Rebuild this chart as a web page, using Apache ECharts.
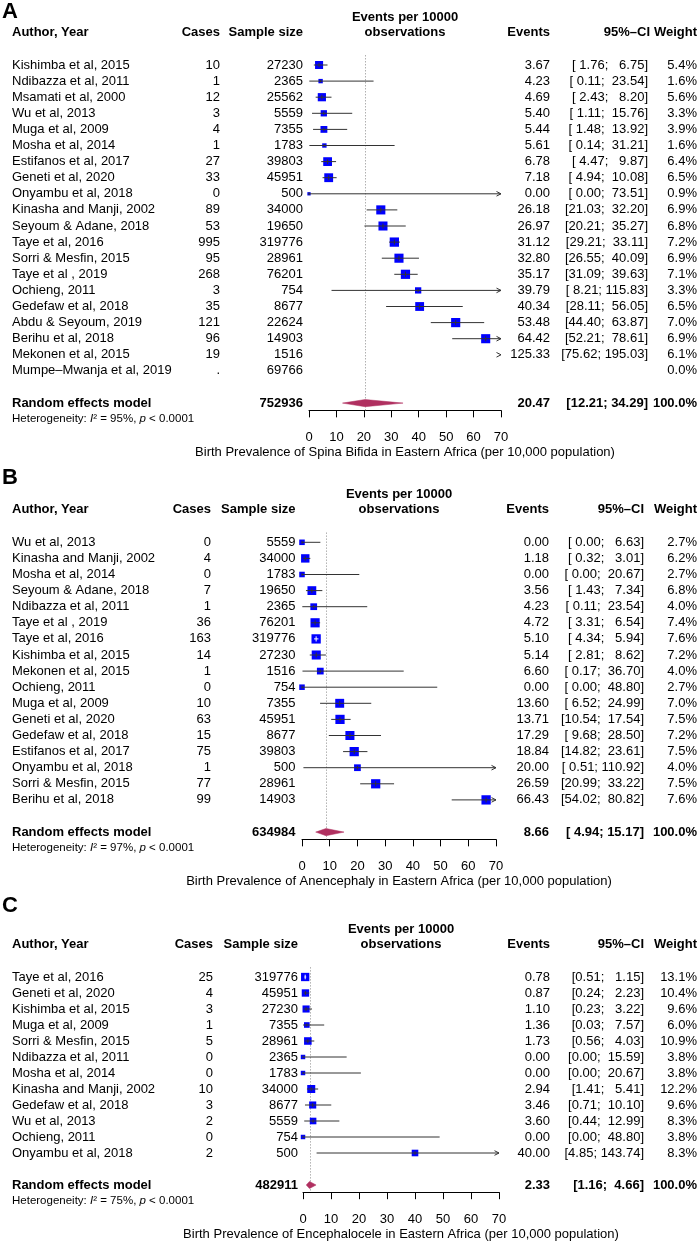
<!DOCTYPE html>
<html>
<head>
<meta charset="utf-8">
<title>Forest plots – neural tube defects in Eastern Africa</title>
<script src="https://cdn.jsdelivr.net/npm/echarts/dist/echarts.min.js"></script>
<style>html,body{margin:0;padding:0;background:#fff}#chart{width:700px;height:1241px}</style>
</head>
<body>
<div id="chart"></div>
<script>
// ---------------- DATA ----------------
// Panel A: Spina bifida
const studiesA = ["Kishimba et al, 2015","Ndibazza et al, 2011","Msamati et al, 2000","Wu et al, 2013","Muga et al, 2009","Mosha et al, 2014","Estifanos et al, 2017","Geneti et al, 2020","Onyambu et al, 2018","Kinasha and Manji, 2002","Seyoum & Adane, 2018","Taye et al, 2016","Sorri & Mesfin, 2015","Taye et al , 2019","Ochieng, 2011","Gedefaw et al, 2018","Abdu & Seyoum, 2019","Berihu et al, 2018","Mekonen et al, 2015","Mumpe–Mwanja et al, 2019"];
const casesA = ["10","1","12","3","4","1","27","33","0","89","53","995","95","268","3","35","121","96","19","."];
const sampleA = [27230,2365,25562,5559,7355,1783,39803,45951,500,34000,19650,319776,28961,76201,754,8677,22624,14903,1516,69766];
const eventsA = [3.67,4.23,4.69,5.40,5.44,5.61,6.78,7.18,0.00,26.18,26.97,31.12,32.80,35.17,39.79,40.34,53.48,64.42,125.33,null];
const lowerA = [1.76,0.11,2.43,1.11,1.48,0.14,4.47,4.94,0.00,21.03,20.21,29.21,26.55,31.09,8.21,28.11,44.40,52.21,75.62,null];
const upperA = [6.75,23.54,8.20,15.76,13.92,31.21,9.87,10.08,73.51,32.20,35.27,33.11,40.09,39.63,115.83,56.05,63.87,78.61,195.03,null];
const weightA = [5.4,1.6,5.6,3.3,3.9,1.6,6.4,6.5,0.9,6.9,6.8,7.2,6.9,7.1,3.3,6.5,7.0,6.9,6.1,0.0];
const pooledA = [20.47,12.21,34.29];
const totalA = 752936;
const i2A = 95;
const titleA = "Birth Prevalence of Spina Bifida in Eastern Africa (per 10,000 population)";

// Panel B: Anencephaly
const studiesB = ["Wu et al, 2013","Kinasha and Manji, 2002","Mosha et al, 2014","Seyoum & Adane, 2018","Ndibazza et al, 2011","Taye et al , 2019","Taye et al, 2016","Kishimba et al, 2015","Mekonen et al, 2015","Ochieng, 2011","Muga et al, 2009","Geneti et al, 2020","Gedefaw et al, 2018","Estifanos et al, 2017","Onyambu et al, 2018","Sorri & Mesfin, 2015","Berihu et al, 2018"];
const casesB = ["0","4","0","7","1","36","163","14","1","0","10","63","15","75","1","77","99"];
const sampleB = [5559,34000,1783,19650,2365,76201,319776,27230,1516,754,7355,45951,8677,39803,500,28961,14903];
const eventsB = [0.00,1.18,0.00,3.56,4.23,4.72,5.10,5.14,6.60,0.00,13.60,13.71,17.29,18.84,20.00,26.59,66.43];
const lowerB = [0.00,0.32,0.00,1.43,0.11,3.31,4.34,2.81,0.17,0.00,6.52,10.54,9.68,14.82,0.51,20.99,54.02];
const upperB = [6.63,3.01,20.67,7.34,23.54,6.54,5.94,8.62,36.70,48.80,24.99,17.54,28.50,23.61,110.92,33.22,80.82];
const weightB = [2.7,6.2,2.7,6.8,4.0,7.4,7.6,7.2,4.0,2.7,7.0,7.5,7.2,7.5,4.0,7.5,7.6];
const pooledB = [8.66,4.94,15.17];
const totalB = 634984;
const i2B = 97;
const titleB = "Birth Prevalence of Anencephaly in Eastern Africa (per 10,000 population)";

// Panel C: Encephalocele
const studiesC = ["Taye et al, 2016","Geneti et al, 2020","Kishimba et al, 2015","Muga et al, 2009","Sorri & Mesfin, 2015","Ndibazza et al, 2011","Mosha et al, 2014","Kinasha and Manji, 2002","Gedefaw et al, 2018","Wu et al, 2013","Ochieng, 2011","Onyambu et al, 2018"];
const casesC = ["25","4","3","1","5","0","0","10","3","2","0","2"];
const sampleC = [319776,45951,27230,7355,28961,2365,1783,34000,8677,5559,754,500];
const eventsC = [0.78,0.87,1.10,1.36,1.73,0.00,0.00,2.94,3.46,3.60,0.00,40.00];
const lowerC = [0.51,0.24,0.23,0.03,0.56,0.00,0.00,1.41,0.71,0.44,0.00,4.85];
const upperC = [1.15,2.23,3.22,7.57,4.03,15.59,20.67,5.41,10.10,12.99,48.80,143.74];
const weightC = [13.1,10.4,9.6,6.0,10.9,3.8,3.8,12.2,9.6,8.3,3.8,8.3];
const pooledC = [2.33,1.16,4.66];
const totalC = 482911;
const i2C = 75;
const titleC = "Birth Prevalence of Encephalocele in Eastern Africa (per 10,000 population)";

const xTicks = [0,10,20,30,40,50,60,70];

// ---------------- LAYOUT ----------------
const PANELS = [
  { letter:'A', studies:studiesA, cases:casesA, sample:sampleA, events:eventsA, lower:lowerA, upper:upperA, weight:weightA, pooled:pooledA, total:totalA, i2:i2A, title:titleA,
    L:{ letterY:11, y0:65, rowH:16.1, x0:309, x70:501, casesR:220, sampleR:303, eventsR:550, ciR:648, ciHeadR:650, weightR:697, maxSq:9.3 } },
  { letter:'B', studies:studiesB, cases:casesB, sample:sampleB, events:eventsB, lower:lowerB, upper:upperB, weight:weightB, pooled:pooledB, total:totalB, i2:i2B, title:titleB,
    L:{ letterY:477, y0:542.3, rowH:16.1, x0:302, x70:496, casesR:211, sampleR:295.5, eventsR:549, ciR:644, ciHeadR:644, weightR:697, maxSq:9.3 } },
  { letter:'C', studies:studiesC, cases:casesC, sample:sampleC, events:eventsC, lower:lowerC, upper:upperC, weight:weightC, pooled:pooledC, total:totalC, i2:i2C, title:titleC,
    L:{ letterY:905, y0:977, rowH:16, x0:303, x70:499, casesR:213, sampleR:298, eventsR:550, ciR:644, ciHeadR:644, weightR:697, maxSq:8.3 } }
];

const FONT = '"Liberation Sans", Arial, Helvetica, sans-serif';
const FS = 13;
const INK = '#000', LINE = '#333', BLUE = '#0000ff', MAROON = '#b03060';

function padL(s, n) { return s.length >= n ? s : ' '.repeat(n - s.length) + s; }

const option = { animation:false, backgroundColor:'#fff', grid:[], xAxis:[], yAxis:[], series:[], graphic:[] };

PANELS.forEach((P, k) => {
  const L = P.L, n = P.studies.length;
  const reRow = n + 1, hetRow = n + 2, axisRow = n + 1.45, rMin = -3;
  const wmax = Math.max(...P.weight);

  option.grid.push({ left:L.x0, width:L.x70 - L.x0, top:L.y0 + rMin * L.rowH, height:(axisRow - rMin) * L.rowH, outerBoundsMode:'none' });
  option.xAxis.push({
    gridIndex:k, type:'value', min:xTicks[0], max:xTicks[xTicks.length - 1], interval:10, position:'bottom',
    axisLine:{ show:true, onZero:false, lineStyle:{ color:INK, width:1 } },
    axisTick:{ show:true, inside:false, length:7, lineStyle:{ color:INK, width:1 } },
    axisLabel:{ show:true, margin:21, color:INK, fontSize:FS, fontFamily:FONT },
    splitLine:{ show:false },
    name:P.title, nameLocation:'middle', nameGap:36, nameMoveOverlap:false,
    nameTextStyle:{ color:INK, fontSize:FS, fontFamily:FONT }
  });
  option.yAxis.push({ gridIndex:k, type:'value', inverse:true, min:rMin, max:axisRow, show:false, splitLine:{ show:false } });

  // formatted CI strings
  const loS = P.lower.map(v => v == null ? '' : v.toFixed(2));
  const hiS = P.upper.map(v => v == null ? '' : v.toFixed(2));
  const nl = Math.max(...loS.map(s => s.length)), nh = Math.max(...hiS.map(s => s.length));
  const ciS = loS.map((s, i) => s ? '[' + padL(s, nl) + '; ' + padL(hiS[i], nh) + ']' : '');
  const reCI = '[' + padL(P.pooled[1].toFixed(2), nl) + '; ' + padL(P.pooled[2].toFixed(2), 5) + ']';

  // table cells
  const xc = (L.x0 + L.x70) / 2;
  const cells = [], rows = [];
  cells.push([{ x:xc, s:'Events per 10000', a:'center', b:1 }]); rows.push([0, -2.95]);
  cells.push([
    { x:12, s:'Author, Year', b:1 }, { x:L.casesR, s:'Cases', a:'right', b:1 }, { x:L.sampleR, s:'Sample size', a:'right', b:1 },
    { x:xc, s:'observations', a:'center', b:1 }, { x:L.eventsR, s:'Events', a:'right', b:1 },
    { x:L.ciHeadR, s:'95%–CI', a:'right', b:1 }, { x:L.weightR, s:'Weight', a:'right', b:1 }
  ]); rows.push([0, -2.02]);
  P.studies.forEach((name, i) => {
    cells.push([
      { x:12, s:name }, { x:L.casesR, s:P.cases[i], a:'right' }, { x:L.sampleR, s:String(P.sample[i]), a:'right' },
      { x:L.eventsR, s:P.events[i] == null ? '' : P.events[i].toFixed(2), a:'right' },
      { x:L.ciR, s:ciS[i], a:'right' }, { x:L.weightR, s:P.weight[i].toFixed(1) + '%', a:'right' }
    ]); rows.push([0, i]);
  });
  cells.push([
    { x:12, s:'Random effects model', b:1 }, { x:L.sampleR, s:String(P.total), a:'right', b:1 },
    { x:L.eventsR, s:P.pooled[0].toFixed(2), a:'right', b:1 }, { x:L.ciR, s:reCI, a:'right', b:1 },
    { x:L.weightR, s:'100.0%', a:'right', b:1 }
  ]); rows.push([0, reRow]);
  cells.push([{ x:12, rich:true, s:'{n|Heterogeneity: }{i|I}{n|² = ' + P.i2 + '%, }{i|p}{n| < 0.0001}' }]); rows.push([0, hetRow]);

  // reference (dotted) line at pooled estimate
  option.series.push({
    type:'custom', xAxisIndex:k, yAxisIndex:k, z:1, silent:true, clip:false,
    data:[[P.pooled[0], reRow]], encode:{ x:0, y:1 },
    renderItem:(params, api) => {
      const x = Math.round(api.coord([api.value(0), 0])[0]) + 0.5;
      const yT = api.coord([0, -0.6])[1], yB = api.coord([0, axisRow])[1];
      return { type:'line', shape:{ x1:x, y1:yT, x2:x, y2:yB }, style:{ stroke:'#8a8a8a', lineWidth:1, lineDash:[1, 2] } };
    }
  });

  // study squares + CI lines
  const markData = [];
  P.studies.forEach((s, i) => { if (P.events[i] != null) markData.push([P.events[i], i, P.lower[i], P.upper[i], P.weight[i]]); });
  option.series.push({
    type:'custom', xAxisIndex:k, yAxisIndex:k, z:3, silent:true, clip:false,
    data:markData, encode:{ x:0, y:1 },
    renderItem:(params, api) => {
      const est = api.value(0), r = api.value(1), lo = api.value(2), hi = api.value(3), w = api.value(4);
      const y = api.coord([0, r])[1];
      const X = v => api.coord([v, r])[0];
      const xMax = X(70);
      const ch = [];
      const arrow = (x) => ({ type:'polyline', shape:{ points:[[x - 4.5, y - 2.3], [x, y], [x - 4.5, y + 2.3]] }, style:{ stroke:LINE, fill:null, lineWidth:1 } });
      if (lo > 70) { ch.push(arrow(xMax)); return { type:'group', children:ch }; }
      const s = L.maxSq * Math.sqrt(w / wmax);
      const cx = X(est);
      const lp = X(Math.max(lo, 0)), hp = X(Math.min(hi, 70));
      const inside = lp >= cx - s / 2 && hp <= cx + s / 2;
      const col = inside ? '#fff' : LINE;
      ch.push({ type:'rect', shape:{ x:cx - s / 2, y:y - s / 2, width:s, height:s }, style:{ fill:BLUE } });
      ch.push({ type:'line', shape:{ x1:lp, y1:y, x2:hp, y2:y }, style:{ stroke:col, lineWidth:1 } });
      const th = Math.max(2.5, s * 0.55) / 2;
      ch.push({ type:'line', shape:{ x1:cx, y1:y - th, x2:cx, y2:y + th }, style:{ stroke:col, lineWidth:1 } });
      if (hi > 70) ch.push(arrow(xMax));
      return { type:'group', children:ch };
    }
  });

  // pooled diamond
  option.series.push({
    type:'custom', xAxisIndex:k, yAxisIndex:k, z:4, silent:true, clip:false,
    data:[[P.pooled[0], reRow, P.pooled[1], P.pooled[2]]], encode:{ x:0, y:1 },
    renderItem:(params, api) => {
      const r = api.value(1), y = api.coord([0, r])[1];
      const X = v => api.coord([v, r])[0];
      const h = 3.6;
      return { type:'polygon', shape:{ points:[[X(api.value(2)), y], [X(api.value(0)), y - h], [X(api.value(3)), y], [X(api.value(0)), y + h]] }, style:{ fill:MAROON, stroke:MAROON, lineWidth:0.5 } };
    }
  });

  // table text
  option.series.push({
    type:'custom', xAxisIndex:k, yAxisIndex:k, z:5, silent:true, clip:false,
    data:rows, encode:{ x:0, y:1 },
    renderItem:(params, api) => {
      const c = cells[params.dataIndex];
      const y = api.coord([0, api.value(1)])[1];
      return {
        type:'group',
        children:c.map(t => {
          const style = t.rich
            ? { text:t.s, align:'left', verticalAlign:'middle', fill:INK,
                rich:{ n:{ fontSize:11.5, fontFamily:FONT, fill:INK }, i:{ fontSize:11.5, fontFamily:FONT, fontStyle:'italic', fill:INK } } }
            : { text:t.s, fill:INK, fontSize:FS, fontFamily:FONT, fontWeight:t.b ? 'bold' : 'normal', align:t.a || 'left', verticalAlign:'middle' };
          return { type:'text', silent:true, x:t.x, y:y, style:style };
        })
      };
    }
  });

  // panel letter
  option.graphic.push({ type:'text', left:2, top:L.letterY - 10, silent:true,
    style:{ text:P.letter, fill:INK, fontSize:22, fontWeight:'bold', fontFamily:FONT } });
});

const chart = echarts.init(document.getElementById('chart'), null, { renderer:'canvas', width:700, height:1241 });
chart.setOption(option);
</script>
</body>
</html>
